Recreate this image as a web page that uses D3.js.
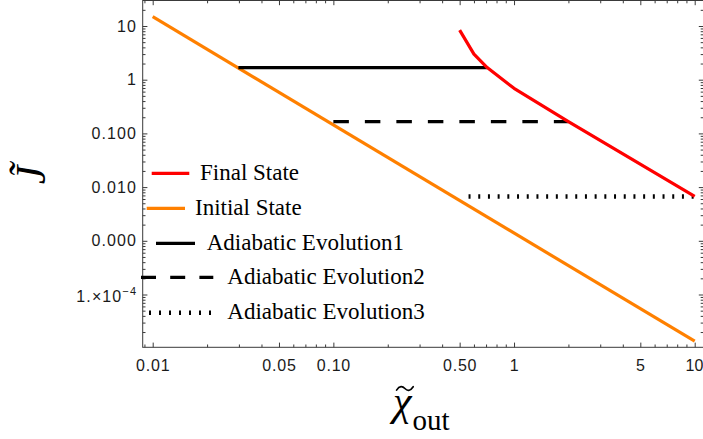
<!DOCTYPE html>
<html>
<head>
<meta charset="utf-8">
<script src="https://cdn.jsdelivr.net/npm/d3@7"></script>
<style>
  html, body { margin: 0; padding: 0; background: #fff; }
  svg { display: block; }
</style>
</head>
<body>
<script>
// ---- data -------------------------------------------------------------
// Final state curve (x, J)
const finalX = [0.5, 0.6, 0.71, 1.0, 2.0, 10];
const finalJ = [8.4, 3.0, 1.68, 0.69, 0.165, 0.0067];

// Initial state line (x, J)
const initialX = [0.01, 10];
const initialJ = [14.9, 1.35e-5];

// Adiabatic evolutions: constant J between two x values
const adiabaticJ    = [1.68, 0.165, 0.0067];
const adiabaticFrom = [0.0298, 0.1, 0.56];
const adiabaticTo   = [0.71, 2.0, 10];

// Tick labels
const xTickValues = [0.01, 0.05, 0.1, 0.5, 1, 5, 10];
const xTickLabels = ["0.01", "0.05", "0.10", "0.50", "1", "5", "10"];
const yTickValues = [10, 1, 0.1, 0.01, 0.001, 1e-4];
const yTickLabels = ["10", "1", "0.100", "0.010", "0.000", "1.\u00d710^-4"];

const legendLabels = ["Final State", "Initial State",
  "Adiabatic Evolution1", "Adiabatic Evolution2", "Adiabatic Evolution3"];

// ---- layout -----------------------------------------------------------
const W = 703, H = 439;
const L = 142.7, R = 703.5, T = 0.5, B = 347.3;   // frame edges
const RED = "#ff0000", ORANGE = "#ff8000", FRAME = "#3a3a3a";
const LW = 3.2;

const svg = d3.select("body").append("svg")
  .attr("width", W).attr("height", H);

const x = d3.scaleLog().domain([0.01, 10]).range([152.7, 694.7]);
const y = d3.scaleLog().domain([10, 1e-4]).range([26, 294.5]);

// all 1..9 x 10^n positions inside [lo, hi]
function logTicks(lo, hi) {
  const out = [];
  for (let e = Math.floor(Math.log10(lo)) - 1; e <= Math.ceil(Math.log10(hi)); e++) {
    for (let k = 1; k < 10; k++) {
      const v = +(k * Math.pow(10, e)).toPrecision(6);
      if (v >= lo && v <= hi) out.push(v);
    }
  }
  return out;
}
const near = (a, b) => Math.abs(Math.log10(a) - Math.log10(b)) < 1e-6;

const xMinor = logTicks(x.invert(L), x.invert(R)).filter(v => !xTickValues.some(t => near(t, v)));
const yMinor = logTicks(y.invert(B), y.invert(T)).filter(v => !yTickValues.some(t => near(t, v)));

const MAJ = 4.7, MIN = 2.8;

function styleAxis(g, spacing) {
  g.select(".domain").remove();
  g.selectAll(".tick line").attr("stroke", FRAME).attr("stroke-width", 1);
  g.attr("font-family", "'Liberation Sans', Arial, sans-serif")
   .attr("font-size", 16);
  g.selectAll(".tick text").attr("fill", "#1a1a1a")
   .style("letter-spacing", (spacing == null ? 1.1 : spacing) + "px");
}

// bottom
svg.append("g").attr("transform", `translate(0,${B})`)
  .call(d3.axisBottom(x).tickValues(xMinor).tickSize(-MIN).tickFormat("")).call(styleAxis);
const xAxisG = svg.append("g").attr("transform", `translate(0,${B})`)
  .call(d3.axisBottom(x).tickValues(xTickValues).tickSize(-MAJ).tickPadding(12.6)
    .tickFormat((d, i) => xTickLabels[i])).call(styleAxis, 0.8);
// the rightmost label sits against the edge of the canvas
xAxisG.selectAll(".tick text").filter(d => near(d, 10))
  .style("letter-spacing", "0px").attr("text-anchor", "end").attr("x", 8.2);
// top
svg.append("g").attr("transform", `translate(0,${T})`)
  .call(d3.axisTop(x).tickValues(xMinor).tickSize(-MIN).tickFormat("")).call(styleAxis);
svg.append("g").attr("transform", `translate(0,${T})`)
  .call(d3.axisTop(x).tickValues(xTickValues).tickSize(-MAJ).tickFormat("")).call(styleAxis);
// left
svg.append("g").attr("transform", `translate(${L},0)`)
  .call(d3.axisLeft(y).tickValues(yMinor).tickSize(-MIN).tickFormat("")).call(styleAxis);
const yAxisG = svg.append("g").attr("transform", `translate(${L},0)`)
  .call(d3.axisLeft(y).tickValues(yTickValues).tickSize(-MAJ).tickPadding(5.6)
    .tickFormat((d, i) => yTickLabels[i])).call(styleAxis);
// right
svg.append("g").attr("transform", `translate(${R},0)`)
  .call(d3.axisRight(y).tickValues(yMinor).tickSize(-MIN).tickFormat("")).call(styleAxis);
svg.append("g").attr("transform", `translate(${R},0)`)
  .call(d3.axisRight(y).tickValues(yTickValues).tickSize(-MAJ).tickFormat("")).call(styleAxis);

// scientific label: mantissa x 10 with a raised exponent
yAxisG.selectAll(".tick text").each(function () {
  const t = d3.select(this);
  const s = t.text();
  if (s.includes("^")) {
    const [base, exp] = s.split("^");
    t.text(null);
    t.append("tspan").text(base);
    t.append("tspan").attr("dy", "-0.62em").attr("font-size", 11)
      .text(exp.replace("-", "\u2212"));
    t.attr("dy", "0.42em");
  }
});

// frame
svg.append("rect")
  .attr("x", L).attr("y", T).attr("width", R - L).attr("height", B - T)
  .attr("fill", "none").attr("stroke", FRAME).attr("stroke-width", 1);

// ---- series -----------------------------------------------------------
const line = d3.line().x(d => x(d[0])).y(d => y(d[1]));

svg.append("path")
  .datum(initialX.map((v, i) => [v, initialJ[i]]))
  .attr("d", line).attr("fill", "none")
  .attr("stroke", ORANGE).attr("stroke-width", LW);

const adiabaticDash = [null, "15.5 16", "2 7.7"];
const adiabaticWidth = [LW, LW, 4.6];
adiabaticJ.forEach((j, i) => {
  svg.append("path")
    .datum([[adiabaticFrom[i], j], [adiabaticTo[i], j]])
    .attr("d", line).attr("fill", "none")
    .attr("stroke", "#000").attr("stroke-width", adiabaticWidth[i])
    .attr("stroke-dasharray", adiabaticDash[i]);
});

svg.append("path")
  .datum(finalX.map((v, i) => [v, finalJ[i]]))
  .attr("d", line).attr("fill", "none")
  .attr("stroke", RED).attr("stroke-width", LW)
  .attr("stroke-linejoin", "round");

// ---- legend -----------------------------------------------------------
const legendRows = [
  { y: 173.3, x0: 151.7, x1: 189.3, tx: 200.0, color: RED,    dash: null,      w: LW },
  { y: 208.3, x0: 146.7, x1: 185.0, tx: 195.0, color: ORANGE, dash: null,      w: LW },
  { y: 243.3, x0: 156.0, x1: 195.0, tx: 206.7, color: "#000", dash: null,      w: LW },
  { y: 277.3, x0: 141.0, x1: 213.3, tx: 227.3, color: "#000", dash: "15 14.2", w: LW },
  { y: 312.7, x0: 149.0, x1: 211.0, tx: 227.3, color: "#000", dash: "2 8",     w: 4.6 }
];
const lg = svg.append("g");
legendRows.forEach((r, i) => {
  lg.append("line")
    .attr("x1", r.x0).attr("x2", r.x1).attr("y1", r.y).attr("y2", r.y)
    .attr("stroke", r.color).attr("stroke-width", r.w)
    .attr("stroke-dasharray", r.dash);
  lg.append("text")
    .attr("x", r.tx).attr("y", r.y + 6.5)
    .attr("font-family", "'Liberation Serif', 'Times New Roman', serif")
    .attr("font-size", 23).attr("fill", "#000")
    .text(legendLabels[i]);
});

// ---- axis titles ------------------------------------------------------
const serif = "'Liberation Serif', 'Times New Roman', serif";

// vertical title: J with tilde, rotated
svg.append("text")
  .attr("transform", "translate(45,175) rotate(-90)")
  .attr("text-anchor", "middle")
  .attr("font-family", serif).attr("font-style", "italic").attr("font-size", 42)
  .text("J\u0303");

// horizontal title: chi with a tilde accent, subscript "out"
const cx = (L + R) / 2;
const xt = svg.append("text").attr("x", cx - 30).attr("y", 415)
  .attr("font-family", serif).attr("font-size", 42);
xt.append("tspan").attr("font-style", "italic").text("\u03c7");
xt.append("tspan").attr("font-size", 29).attr("dy", 15).attr("dx", 1).text("out");

// tilde accent over the chi
const tx0 = cx - 26.5, ty0 = 388.5;
svg.append("path")
  .attr("d", `M${tx0},${ty0 + 1.6} C${tx0 + 3},${ty0 - 3} ${tx0 + 6},${ty0 - 2.4} ${tx0 + 8.3},${ty0}`
    + ` S${tx0 + 13.5},${ty0 + 3} ${tx0 + 16.6},${ty0 - 1.8}`)
  .attr("fill", "none").attr("stroke", "#000").attr("stroke-width", 1.7)
  .attr("stroke-linecap", "round");
</script>
</body>
</html>
